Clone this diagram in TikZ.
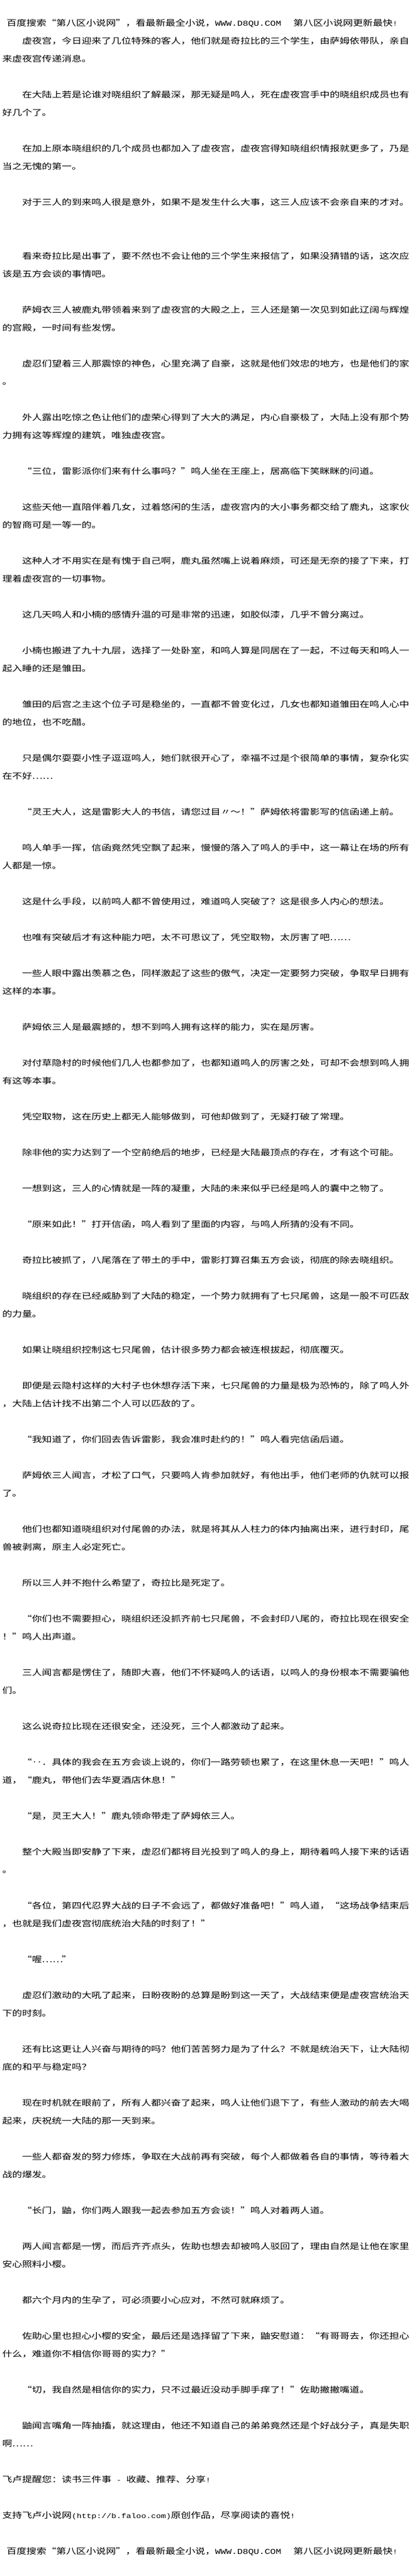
\documentclass[tikz,border=0pt]{standalone}
\usepackage{fontspec}
\setmainfont[FakeStretch=1.23]{Noto Sans CJK SC}
\newfontfamily\latinmono[FakeStretch=1.23]{Liberation Mono}
\newcommand{\half}[1]{{\latinmono\fontsize{11.25pt}{14pt}\selectfont #1}}
\newcommand{\qo}{\makebox[16.6pt][r]{“}}
\newcommand{\qc}{\makebox[16.6pt][l]{”}}
\newcommand{\ellip}{\makebox[33.2pt][l]{……}}
\newcommand{\headline}{百度搜索\qo 第八区小说网\qc，看最新最全小说，\makebox[131pt][l]{{\latinmono\fontsize{12.5pt}{15pt}\selectfont WWW.D8QU.COM}}第八区小说网更新最快\half{!}}
\tikzset{prose/.style={anchor=base west, inner sep=0pt, font=\fontsize{13.5pt}{16pt}\selectfont}}

\begin{document}
\begin{tikzpicture}[x=1pt,y=-30pt]
\fill[white] (0,-0.443) rectangle (700,143.22);
\useasboundingbox (0,-0.443) rectangle (700,143.22);

\node[prose] (head) at (11,1) {\headline};

\node[prose] (p1) at (36.8,2) {虚夜宫，今日迎来了几位特殊的客人，他们就是奇拉比的三个学生，由萨姆依带队，亲自};
\node[prose] (p1b) at (3.6,3) {来虚夜宫传递消息。};
\node[prose] (p2) at (36.8,5) {在大陆上若是论谁对晓组织了解最深，那无疑是鸣人，死在虚夜宫手中的晓组织成员也有};
\node[prose] (p2b) at (3.6,6) {好几个了。};
\node[prose] (p3) at (36.8,8) {在加上原本晓组织的几个成员也都加入了虚夜宫，虚夜宫得知晓组织情报就更多了，乃是};
\node[prose] (p3b) at (3.6,9) {当之无愧的第一。};
\node[prose] (p4) at (36.8,11) {对于三人的到来鸣人很是意外，如果不是发生什么大事，这三人应该不会亲自来的才对。};
\node[prose] (p5) at (36.8,14) {看来奇拉比是出事了，要不然也不会让他的三个学生来报信了，如果没猜错的话，这次应};
\node[prose] (p5b) at (3.6,15) {该是五方会谈的事情吧。};
\node[prose] (p6) at (36.8,17) {萨姆衣三人被鹿丸带领着来到了虚夜宫的大殿之上，三人还是第一次见到如此辽阔与辉煌};
\node[prose] (p6b) at (3.6,18) {的宫殿，一时间有些发愣。};
\node[prose] (p7) at (36.8,20) {虚忍们望着三人那震惊的神色，心里充满了自豪，这就是他们效忠的地方，也是他们的家};
\node[prose] (p7b) at (3.6,21) {。};
\node[prose] (p8) at (36.8,23) {外人露出吃惊之色让他们的虚荣心得到了大大的满足，内心自豪极了，大陆上没有那个势};
\node[prose] (p8b) at (3.6,24) {力拥有这等辉煌的建筑，唯独虚夜宫。};
\node[prose] (p9) at (36.8,26) {\qo 三位，雷影派你们来有什么事吗？\qc 鸣人坐在王座上，居高临下笑眯眯的问道。};
\node[prose] (p10) at (36.8,28) {这些天他一直陪伴着几女，过着悠闲的生活，虚夜宫内的大小事务都交给了鹿丸，这家伙};
\node[prose] (p10b) at (3.6,29) {的智商可是一等一的。};
\node[prose] (p11) at (36.8,31) {这种人才不用实在是有愧于自己啊，鹿丸虽然嘴上说着麻烦，可还是无奈的接了下来，打};
\node[prose] (p11b) at (3.6,32) {理着虚夜宫的一切事物。};
\node[prose] (p12) at (36.8,34) {这几天鸣人和小楠的感情升温的可是非常的迅速，如胶似漆，几乎不曾分离过。};
\node[prose] (p13) at (36.8,36) {小楠也搬进了九十九层，选择了一处卧室，和鸣人算是同居在了一起，不过每天和鸣人一};
\node[prose] (p13b) at (3.6,37) {起入睡的还是雏田。};
\node[prose] (p14) at (36.8,39) {雏田的后宫之主这个位子可是稳坐的，一直都不曾变化过，几女也都知道雏田在鸣人心中};
\node[prose] (p14b) at (3.6,40) {的地位，也不吃醋。};
\node[prose] (p15) at (36.8,42) {只是偶尔耍耍小性子逗逗鸣人，她们就很开心了，幸福不过是个很简单的事情，复杂化实};
\node[prose] (p15b) at (3.6,43) {在不好\ellip};
\node[prose] (p16) at (36.8,45) {\qo 灵王大人，这是雷影大人的书信，请您过目〃～！\qc 萨姆依将雷影写的信函递上前。};
\node[prose] (p17) at (36.8,47) {鸣人单手一挥，信函竟然凭空飘了起来，慢慢的落入了鸣人的手中，这一幕让在场的所有};
\node[prose] (p17b) at (3.6,48) {人都是一惊。};
\node[prose] (p18) at (36.8,50) {这是什么手段，以前鸣人都不曾使用过，难道鸣人突破了？这是很多人内心的想法。};
\node[prose] (p19) at (36.8,52) {也唯有突破后才有这种能力吧，太不可思议了，凭空取物，太厉害了吧\ellip};
\node[prose] (p20) at (36.8,54) {一些人眼中露出羡慕之色，同样激起了这些的傲气，决定一定要努力突破，争取早日拥有};
\node[prose] (p20b) at (3.6,55) {这样的本事。};
\node[prose] (p21) at (36.8,57) {萨姆依三人是最震撼的，想不到鸣人拥有这样的能力，实在是厉害。};
\node[prose] (p22) at (36.8,59) {对付草隐村的时候他们几人也都参加了，也都知道鸣人的厉害之处，可却不会想到鸣人拥};
\node[prose] (p22b) at (3.6,60) {有这等本事。};
\node[prose] (p23) at (36.8,62) {凭空取物，这在历史上都无人能够做到，可他却做到了，无疑打破了常理。};
\node[prose] (p24) at (36.8,64) {除非他的实力达到了一个空前绝后的地步，已经是大陆最顶点的存在，才有这个可能。};
\node[prose] (p25) at (36.8,66) {一想到这，三人的心情就是一阵的凝重，大陆的未来似乎已经是鸣人的囊中之物了。};
\node[prose] (p26) at (36.8,68) {\qo 原来如此！\qc 打开信函，鸣人看到了里面的内容，与鸣人所猜的没有不同。};
\node[prose] (p27) at (36.8,70) {奇拉比被抓了，八尾落在了带土的手中，雷影打算召集五方会谈，彻底的除去晓组织。};
\node[prose] (p28) at (36.8,72) {晓组织的存在已经威胁到了大陆的稳定，一个势力就拥有了七只尾兽，这是一股不可匹敌};
\node[prose] (p28b) at (3.6,73) {的力量。};
\node[prose] (p29) at (36.8,75) {如果让晓组织控制这七只尾兽，估计很多势力都会被连根拔起，彻底覆灭。};
\node[prose] (p30) at (36.8,77) {即便是云隐村这样的大村子也休想存活下来，七只尾兽的力量是极为恐怖的，除了鸣人外};
\node[prose] (p30b) at (3.6,78) {，大陆上估计找不出第二个人可以匹敌的了。};
\node[prose] (p31) at (36.8,80) {\qo 我知道了，你们回去告诉雷影，我会准时赴约的！\qc 鸣人看完信函后道。};
\node[prose] (p32) at (36.8,82) {萨姆依三人闻言，才松了口气，只要鸣人肯参加就好，有他出手，他们老师的仇就可以报};
\node[prose] (p32b) at (3.6,83) {了。};
\node[prose] (p33) at (36.8,85) {他们也都知道晓组织对付尾兽的办法，就是将其从人柱力的体内抽离出来，进行封印，尾};
\node[prose] (p33b) at (3.6,86) {兽被剥离，原主人必定死亡。};
\node[prose] (p34) at (36.8,88) {所以三人并不抱什么希望了，奇拉比是死定了。};
\node[prose] (p35) at (36.8,90) {\qo 你们也不需要担心，晓组织还没抓齐前七只尾兽，不会封印八尾的，奇拉比现在很安全};
\node[prose] (p35b) at (3.6,91) {！\qc 鸣人出声道。};
\node[prose] (p36) at (36.8,93) {三人闻言都是愣住了，随即大喜，他们不怀疑鸣人的话语，以鸣人的身份根本不需要骗他};
\node[prose] (p36b) at (3.6,94) {们。};
\node[prose] (p37) at (36.8,96) {这么说奇拉比现在还很安全，还没死，三个人都激动了起来。};
\node[prose] (p38) at (36.8,98) {\qo\makebox[16.6pt]{‥}．具体的我会在五方会谈上说的，你们一路劳顿也累了，在这里休息一天吧！\qc 鸣人};
\node[prose] (p38b) at (3.6,99) {道，\qo 鹿丸，带他们去华夏酒店休息！\qc};
\node[prose] (p39) at (36.8,101) {\qo 是，灵王大人！\qc 鹿丸领命带走了萨姆依三人。};
\node[prose] (p40) at (36.8,103) {整个大殿当即安静了下来，虚忍们都将目光投到了鸣人的身上，期待着鸣人接下来的话语};
\node[prose] (p40b) at (3.6,104) {。};
\node[prose] (p41) at (36.8,106) {\qo 各位，第四代忍界大战的日子不会远了，都做好准备吧！\qc 鸣人道，\qo 这场战争结束后};
\node[prose] (p41b) at (3.6,107) {，也就是我们虚夜宫彻底统治大陆的时刻了！\qc};
\node[prose] (p42) at (36.8,109) {\qo 喔\ellip\qc};
\node[prose] (p43) at (36.8,111) {虚忍们激动的大吼了起来，日盼夜盼的总算是盼到这一天了，大战结束便是虚夜宫统治天};
\node[prose] (p43b) at (3.6,112) {下的时刻。};
\node[prose] (p44) at (36.8,114) {还有比这更让人兴奋与期待的吗？他们苦苦努力是为了什么？不就是统治天下，让大陆彻};
\node[prose] (p44b) at (3.6,115) {底的和平与稳定吗？};
\node[prose] (p45) at (36.8,117) {现在时机就在眼前了，所有人都兴奋了起来，鸣人让他们退下了，有些人激动的前去大喝};
\node[prose] (p45b) at (3.6,118) {起来，庆祝统一大陆的那一天到来。};
\node[prose] (p46) at (36.8,120) {一些人都奋发的努力修炼，争取在大战前再有突破，每个人都做着各自的事情，等待着大};
\node[prose] (p46b) at (3.6,121) {战的爆发。};
\node[prose] (p47) at (36.8,123) {\qo 长门，鼬，你们两人跟我一起去参加五方会谈！\qc 鸣人对着两人道。};
\node[prose] (p48) at (36.8,125) {两人闻言都是一愣，而后齐齐点头，佐助也想去却被鸣人驳回了，理由自然是让他在家里};
\node[prose] (p48b) at (3.6,126) {安心照料小樱。};
\node[prose] (p49) at (36.8,128) {都六个月内的生孕了，可必须要小心应对，不然可就麻烦了。};
\node[prose] (p50) at (36.8,130) {佐助心里也担心小樱的安全，最后还是选择留了下来，鼬安慰道：\qo 有哥哥去，你还担心};
\node[prose] (p50b) at (3.6,131) {什么，难道你不相信你哥哥的实力？\qc};
\node[prose] (p51) at (36.8,133) {\qo 切，我自然是相信你的实力，只不过最近没动手脚手痒了！\qc 佐助撇撇嘴道。};
\node[prose] (p52) at (36.8,135) {鼬闻言嘴角一阵抽搐，就这理由，他还不知道自己的弟弟竟然还是个好战分子，真是失职};
\node[prose] (p52b) at (3.6,136) {啊\ellip};

\node[prose] (tip) at (3.6,138) {飞卢提醒您：读书三件事\half{ - }收藏、推荐、分享\half{!}};
\node[prose] (ad) at (3.6,140) {支持飞卢小说网\half{(http://b.faloo.com)}原创作品，尽享阅读的喜悦\half{!}};
\node[prose] (foot) at (11,142) {\headline};
\end{tikzpicture}
\end{document}
